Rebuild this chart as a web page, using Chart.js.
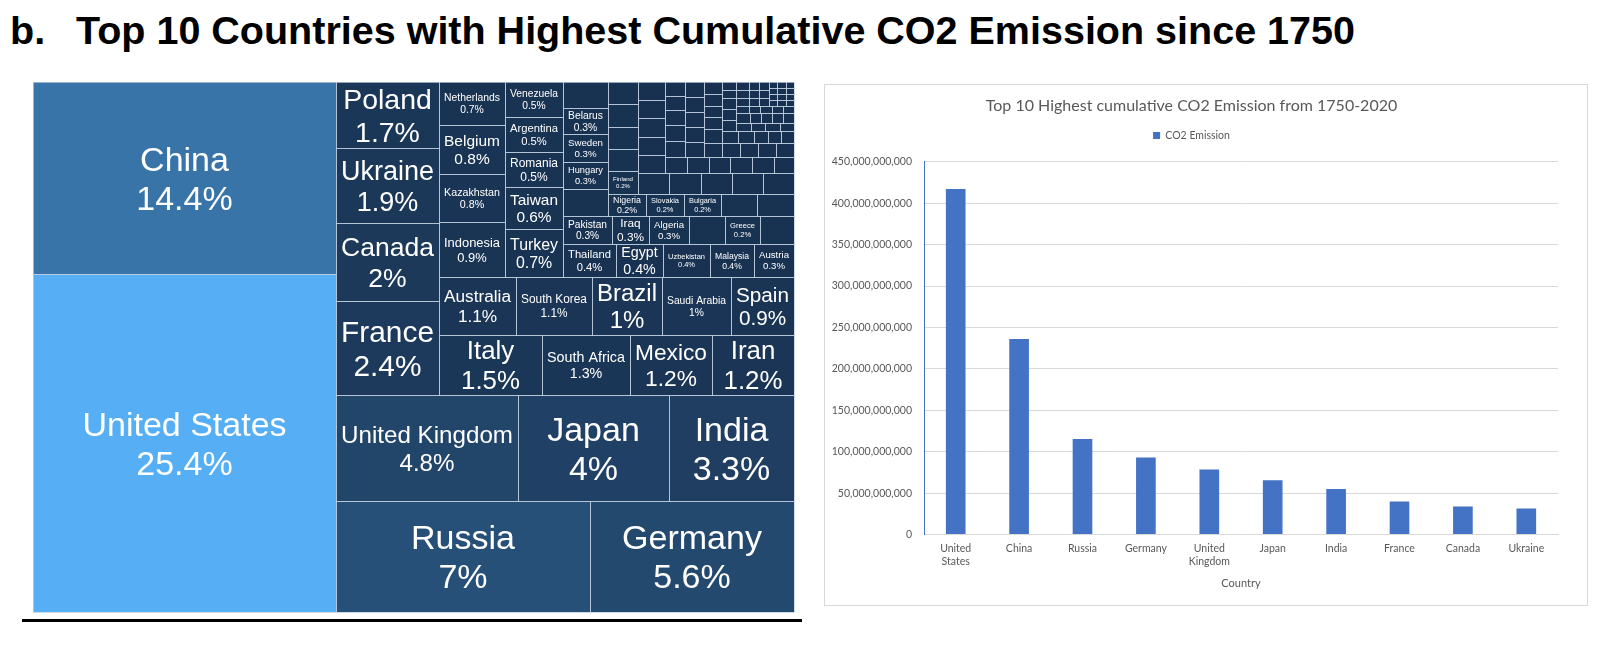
<!DOCTYPE html>
<html>
<head>
<meta charset="utf-8">
<script src="https://cdn.jsdelivr.net/npm/chart.js@4.4.1/dist/chart.umd.min.js"></script>
<style>
    body { margin: 0; width: 1610px; height: 650px; background: #fff; position: relative; overflow: hidden; font-family: "Liberation Sans", Arial, sans-serif; }
    .titulo { position: absolute; top: 8px; font-weight: bold; font-size: 39.5px; color: #000; white-space: nowrap; }
    #treemap-box { position: absolute; left: 33px; top: 82px; }
    #linea { position: absolute; left: 22px; top: 619px; width: 780px; height: 3px; background: #000; }
    #bar-box { position: absolute; left: 824px; top: 84px; width: 762px; height: 520px; border: 1px solid #d9d9d9; }
</style>
</head>
<body>
<div class="titulo" style="left:10px">b.</div>
<div class="titulo" style="left:76px">Top 10 Countries with Highest Cumulative CO2 Emission since 1750</div>
<div id="treemap-box"><canvas id="chart-treemap" width="762" height="531"></canvas></div>
<div id="linea"></div>
<div id="bar-box"><canvas id="chart-bar" width="762" height="520"></canvas></div>

<script>
// Treemap: participación (%) en las emisiones acumuladas, en el orden del original
// las celdas sin nombre son países que no llevan etiqueta en el original
const PAISES = [
    "United States", "China", "Russia", "Germany", "United Kingdom", "Japan", "India",
    "France", "Canada", "Ukraine", "Poland", "Italy", "South Africa", "Mexico", "Iran",
    "Australia", "South Korea", "Brazil", "Saudi Arabia", "Spain", "Indonesia", "Kazakhstan",
    "Belgium", "Netherlands", "Turkey", "Taiwan", "Romania", "Argentina", "Venezuela",
    "Thailand", "Egypt", "Uzbekistan", "Malaysia", "Austria",
    "Pakistan", "Iraq", "Algeria", "", "Greece", "",
    "", "Hungary", "Sweden", "Belarus", "",
    "Nigeria", "Slovakia", "Bulgaria", "", "",
    "Finland", "", "", "", "",
    "", "", "", "", "",
    "", "", "", "", "",
    "", "", "", "", "",
    "", "", "", "",
    "", "", "", "", "", "", "", "", "", "", "", "", "",
    "", "", "", "", "", "", "", "", "", "", "", "", "", "", "", "", "", "", "", "",
    "", "", "", "", "", "", "", "", "", "", "", "", "", "", "", "", "", "", "", "",
    "", "", "", "", "",
];
const PORCENTAJES = [
    25.4, 14.4, 7.0, 5.6, 4.8, 4.0, 3.3,
    2.4, 2.0, 1.9, 1.7, 1.5, 1.3, 1.2, 1.2,
    1.1, 1.1, 1.0, 1.0, 0.9, 0.9, 0.8,
    0.8, 0.7, 0.7, 0.6, 0.5, 0.5, 0.5,
    0.44, 0.39, 0.39, 0.37, 0.33,
    0.34, 0.26, 0.28, 0.25, 0.24, 0.24,
    0.30, 0.30, 0.30, 0.29, 0.29,
    0.21, 0.21, 0.20, 0.20, 0.20,
    0.17, 0.17, 0.17, 0.17, 0.17,
    0.16, 0.16, 0.16, 0.16, 0.16,
    0.12, 0.12, 0.12, 0.12, 0.12,
    0.088, 0.088, 0.088, 0.088, 0.088,
    0.08, 0.08, 0.08, 0.08,
    0.07, 0.07, 0.07, 0.07, 0.07, 0.07, 0.07, 0.06, 0.06, 0.06, 0.06, 0.06, 0.06,
    0.05, 0.05, 0.05, 0.05, 0.05, 0.05, 0.04, 0.04, 0.04, 0.04, 0.04, 0.04, 0.03, 0.03, 0.03, 0.03, 0.03, 0.03, 0.03, 0.025,
    0.025, 0.025, 0.025, 0.025, 0.025, 0.025, 0.025, 0.02, 0.02, 0.02, 0.02, 0.02, 0.02, 0.02, 0.02, 0.02, 0.02, 0.0125, 0.0125, 0.0125,
    0.0125, 0.0125, 0.0125, 0.0125, 0.0125, 0.0125, 0.0125, 0.0125, 0.0125,
];

// Gráfico de barras: emisión acumulada 1750-2020 (toneladas)
const PAISES_BARRAS = [
    ["United", "States"], "China", "Russia", "Germany", ["United", "Kingdom"],
    "Japan", "India", "France", "Canada", "Ukraine",
];
const EMISIONES = [
    417e9, 236e9, 115.5e9, 93e9, 78.5e9, 65.5e9, 55e9, 40e9, 34e9, 31.5e9,
];
const EJE_Y_MAX = 450e9;
const EJE_Y_PASO = 50e9;

// Proporción del espacio de diseño del treemap (ancho / alto)
const ANCHO_LAYOUT = 1.0;
const FUENTE = '"Liberation Sans", Arial, sans-serif';

// Algoritmo squarify (como d3): filas abajo, columnas a la izquierda
function calcularCeldas(valores, x0, y0, x1, y1) {
    const nodos = valores.map((v, i) => ({ v, i }));
    let total = valores.reduce((s, v) => s + v, 0);
    let i0 = 0, i1 = 0;
    const n = nodos.length;
    while (i0 < n) {
        const dx = x1 - x0, dy = y1 - y0;
        let suma = nodos[i1++].v;
        let minV = suma, maxV = suma;
        const alpha = Math.max(dy / dx, dx / dy) / total;
        let beta = suma * suma * alpha;
        let minRatio = Math.max(maxV / beta, beta / minV);
        for (; i1 < n; ++i1) {
            const v = nodos[i1].v;
            suma += v;
            if (v < minV) minV = v;
            if (v > maxV) maxV = v;
            beta = suma * suma * alpha;
            const r = Math.max(maxV / beta, beta / minV);
            if (r > minRatio) { suma -= v; break; }
            minRatio = r;
        }
        const fila = nodos.slice(i0, i1);
        if (dx < dy) {
            const yy = i1 < n ? y0 + dy * suma / total : y1;
            let x = x0;
            fila.forEach((nd, k) => {
                const xx = k === fila.length - 1 ? x1 : x + dx * nd.v / suma;
                Object.assign(nd, { x0: x, y0, x1: xx, y1: yy });
                x = xx;
            });
            y0 = yy;
        } else {
            const xx = i1 < n ? x0 + dx * suma / total : x1;
            let y = y0;
            fila.forEach((nd, k) => {
                const yy = k === fila.length - 1 ? y1 : y + dy * nd.v / suma;
                Object.assign(nd, { x0, y0: y, x1: xx, y1: yy });
                y = yy;
            });
            x0 = xx;
        }
        total -= suma;
        i0 = i1;
    }
    return nodos;
}

const OSCURO = [24, 49, 80];
const CLARO = [86, 175, 244];
function colorCelda(v) {
    const t = Math.pow(v / PORCENTAJES[0], 1.1);
    const c = OSCURO.map((o, i) => Math.round(o + (CLARO[i] - o) * t));
    return `rgb(${c.join(",")})`;
}

const formatoPct = (v) => `${+v.toFixed(1)}%`;

const celdas = calcularCeldas(PORCENTAJES, 0, 0, ANCHO_LAYOUT, 1);

const pluginTreemap = {
    id: "treemapCeldas",
    afterDatasetsDraw(chart) {
        const { ctx, scales: { x, y } } = chart;
        const rects = celdas.map((c) => {
            const X0 = Math.round(x.getPixelForValue(c.x0));
            const X1 = Math.round(x.getPixelForValue(c.x1));
            const Y0 = Math.round(y.getPixelForValue(c.y1));
            const Y1 = Math.round(y.getPixelForValue(c.y0));
            return { c, X0, X1, Y0, Y1 };
        });
        ctx.save();
        rects.forEach(({ c, X0, X1, Y0, Y1 }) => {
            ctx.fillStyle = colorCelda(c.v);
            ctx.fillRect(X0, Y0, X1 - X0, Y1 - Y0);
        });
        ctx.strokeStyle = "rgba(190,205,222,0.75)";
        ctx.lineWidth = 1;
        rects.forEach(({ X0, X1, Y0, Y1 }) => {
            ctx.strokeRect(X0 + 0.5, Y0 + 0.5, X1 - X0, Y1 - Y0);
        });

        // etiquetas: nombre y porcentaje, tamaño ajustado a la celda
        ctx.fillStyle = "#ffffff";
        ctx.textAlign = "center";
        ctx.textBaseline = "alphabetic";
        rects.forEach(({ c, X0, X1, Y0, Y1 }) => {
            const nombre = PAISES[c.i];
            if (!nombre) return;
            const lineas = [nombre, formatoPct(c.v)];
            ctx.font = `100px ${FUENTE}`;
            const ancho100 = Math.max(...lineas.map((t) => ctx.measureText(t).width)) / 100;
            const w = X1 - X0, h = Y1 - Y0;
            const fs = Math.min(34, (w - 10) / ancho100, h / 2.32);
            if (fs < 5.5) return;
            const cap = 0.716 * fs, alto = 1.15 * fs;
            const cx = (X0 + X1) / 2, cy = (Y0 + Y1) / 2;
            const base1 = cy - (cap + alto) / 2 + cap;
            ctx.font = `${fs}px ${FUENTE}`;
            ctx.fillText(lineas[0], cx, base1);
            ctx.fillText(lineas[1], cx, base1 + alto);
        });
        ctx.restore();
    },
};

new Chart(document.getElementById("chart-treemap"), {
    type: "scatter",
    data: { datasets: [{ data: [] }] },
    options: {
        responsive: false,
        animation: false,
        layout: { padding: { left: 0, top: 0, right: 1, bottom: 1 } },
        plugins: { legend: { display: false }, tooltip: { enabled: false } },
        scales: {
            x: { type: "linear", min: 0, max: ANCHO_LAYOUT, display: false },
            y: { type: "linear", min: 0, max: 1, display: false },
        },
    },
    plugins: [pluginTreemap],
});

// espacio extra debajo de la leyenda
const margenLeyenda = {
    id: "margenLeyenda",
    afterInit(chart) {
        const fitOriginal = chart.legend.fit;
        chart.legend.fit = function () {
            fitOriginal.call(this);
            this.height += 11;
        };
    },
};

const GRIS = "#595959";
new Chart(document.getElementById("chart-bar"), {
    type: "bar",
    data: {
        labels: PAISES_BARRAS,
        datasets: [
            {
                label: "CO2 Emission",
                data: EMISIONES,
                backgroundColor: "#4472C4",
                borderWidth: 0,
                categoryPercentage: 1,
                barPercentage: 0.31,
            },
        ],
    },
    options: {
        responsive: false,
        animation: false,
        layout: { padding: { left: 0, right: 29, top: 0, bottom: 15 } },
        plugins: {
            title: {
                display: true,
                text: "Top 10 Highest cumulative CO2 Emission from 1750-2020",
                color: GRIS,
                font: { family: "Lato", size: 16, weight: "normal" },
                padding: { top: 11, bottom: 5 },
            },
            legend: {
                labels: {
                    color: GRIS,
                    font: { family: "Lato", size: 10.5 },
                    boxWidth: 7,
                    boxHeight: 7,
                    padding: 10,
                },
            },
            tooltip: { enabled: false },
        },
        scales: {
            x: {
                grid: { display: false, drawTicks: false },
                border: { color: "#d9d9d9" },
                ticks: { color: GRIS, font: { family: "Lato", size: 10.5 }, padding: 8, maxRotation: 0, autoSkip: false },
                title: { display: true, text: "Country", color: GRIS, font: { family: "Lato", size: 11 }, padding: { top: 1, bottom: 0 } },
            },
            y: {
                min: 0,
                max: EJE_Y_MAX,
                ticks: {
                    stepSize: EJE_Y_PASO,
                    color: GRIS,
                    font: { family: "Lato", size: 10.5 },
                    padding: 12,
                    callback: (v) => v.toLocaleString("en-US"),
                },
                grid: { color: "#d9d9d9", drawTicks: false },
                border: { color: "#4472C4" },
                afterFit(scale) { scale.width = 99; },
            },
        },
    },
    plugins: [margenLeyenda],
});
</script>
</body>
</html>
